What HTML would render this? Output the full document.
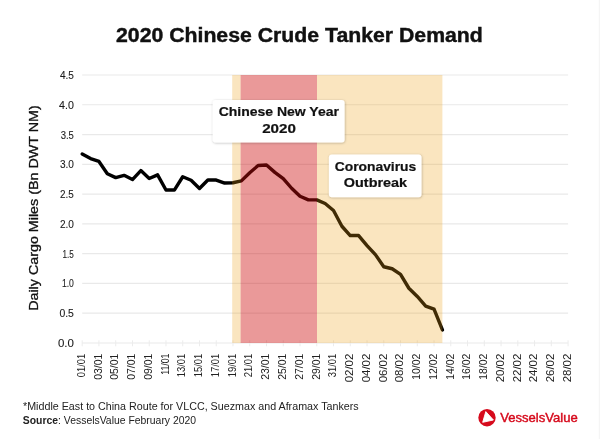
<!DOCTYPE html>
<html><head><meta charset="utf-8"><title>2020 Chinese Crude Tanker Demand</title>
<style>html,body{margin:0;padding:0;background:#fff;width:600px;height:439px;overflow:hidden}svg{display:block;will-change:transform}text{font-family:"Liberation Sans",sans-serif}</style></head><body>
<svg width="600" height="439" viewBox="0 0 600 439">
<defs><filter id="sh" x="-20%" y="-30%" width="140%" height="160%"><feDropShadow dx="0.4" dy="0.6" stdDeviation="0.9" flood-color="#000" flood-opacity="0.28"/></filter></defs>
<rect x="0" y="0" width="600" height="439" fill="#fff"/>
<rect x="598.8" y="0" width="1.2" height="439" fill="#f5f5f5"/>
<text x="116" y="41.5" font-size="19.5" font-weight="bold" fill="#111" stroke="#111" stroke-width="0.4" textLength="366.8" lengthAdjust="spacingAndGlyphs">2020 Chinese Crude Tanker Demand</text>
<line x1="82.2" y1="343.00" x2="568.1" y2="343.00" stroke="#e9e9e9" stroke-width="1.2"/>
<line x1="82.2" y1="313.22" x2="568.1" y2="313.22" stroke="#e9e9e9" stroke-width="1.2"/>
<line x1="82.2" y1="283.44" x2="568.1" y2="283.44" stroke="#e9e9e9" stroke-width="1.2"/>
<line x1="82.2" y1="253.66" x2="568.1" y2="253.66" stroke="#e9e9e9" stroke-width="1.2"/>
<line x1="82.2" y1="223.88" x2="568.1" y2="223.88" stroke="#e9e9e9" stroke-width="1.2"/>
<line x1="82.2" y1="194.10" x2="568.1" y2="194.10" stroke="#e9e9e9" stroke-width="1.2"/>
<line x1="82.2" y1="164.32" x2="568.1" y2="164.32" stroke="#e9e9e9" stroke-width="1.2"/>
<line x1="82.2" y1="134.54" x2="568.1" y2="134.54" stroke="#e9e9e9" stroke-width="1.2"/>
<line x1="82.2" y1="104.76" x2="568.1" y2="104.76" stroke="#e9e9e9" stroke-width="1.2"/>
<line x1="82.2" y1="74.98" x2="568.1" y2="74.98" stroke="#e9e9e9" stroke-width="1.2"/>
<line x1="82.20" y1="340.3" x2="82.20" y2="346.3" stroke="#ececec" stroke-width="1"/>
<line x1="98.95" y1="340.3" x2="98.95" y2="346.3" stroke="#ececec" stroke-width="1"/>
<line x1="115.71" y1="340.3" x2="115.71" y2="346.3" stroke="#ececec" stroke-width="1"/>
<line x1="132.46" y1="340.3" x2="132.46" y2="346.3" stroke="#ececec" stroke-width="1"/>
<line x1="149.22" y1="340.3" x2="149.22" y2="346.3" stroke="#ececec" stroke-width="1"/>
<line x1="165.97" y1="340.3" x2="165.97" y2="346.3" stroke="#ececec" stroke-width="1"/>
<line x1="182.72" y1="340.3" x2="182.72" y2="346.3" stroke="#ececec" stroke-width="1"/>
<line x1="199.48" y1="340.3" x2="199.48" y2="346.3" stroke="#ececec" stroke-width="1"/>
<line x1="216.23" y1="340.3" x2="216.23" y2="346.3" stroke="#ececec" stroke-width="1"/>
<line x1="232.99" y1="340.3" x2="232.99" y2="346.3" stroke="#ececec" stroke-width="1"/>
<line x1="249.74" y1="340.3" x2="249.74" y2="346.3" stroke="#ececec" stroke-width="1"/>
<line x1="266.49" y1="340.3" x2="266.49" y2="346.3" stroke="#ececec" stroke-width="1"/>
<line x1="283.25" y1="340.3" x2="283.25" y2="346.3" stroke="#ececec" stroke-width="1"/>
<line x1="300.00" y1="340.3" x2="300.00" y2="346.3" stroke="#ececec" stroke-width="1"/>
<line x1="316.76" y1="340.3" x2="316.76" y2="346.3" stroke="#ececec" stroke-width="1"/>
<line x1="333.51" y1="340.3" x2="333.51" y2="346.3" stroke="#ececec" stroke-width="1"/>
<line x1="350.26" y1="340.3" x2="350.26" y2="346.3" stroke="#ececec" stroke-width="1"/>
<line x1="367.02" y1="340.3" x2="367.02" y2="346.3" stroke="#ececec" stroke-width="1"/>
<line x1="383.77" y1="340.3" x2="383.77" y2="346.3" stroke="#ececec" stroke-width="1"/>
<line x1="400.53" y1="340.3" x2="400.53" y2="346.3" stroke="#ececec" stroke-width="1"/>
<line x1="417.28" y1="340.3" x2="417.28" y2="346.3" stroke="#ececec" stroke-width="1"/>
<line x1="434.03" y1="340.3" x2="434.03" y2="346.3" stroke="#ececec" stroke-width="1"/>
<line x1="450.79" y1="340.3" x2="450.79" y2="346.3" stroke="#ececec" stroke-width="1"/>
<line x1="467.54" y1="340.3" x2="467.54" y2="346.3" stroke="#ececec" stroke-width="1"/>
<line x1="484.30" y1="340.3" x2="484.30" y2="346.3" stroke="#ececec" stroke-width="1"/>
<line x1="501.05" y1="340.3" x2="501.05" y2="346.3" stroke="#ececec" stroke-width="1"/>
<line x1="517.80" y1="340.3" x2="517.80" y2="346.3" stroke="#ececec" stroke-width="1"/>
<line x1="534.56" y1="340.3" x2="534.56" y2="346.3" stroke="#ececec" stroke-width="1"/>
<line x1="551.31" y1="340.3" x2="551.31" y2="346.3" stroke="#ececec" stroke-width="1"/>
<line x1="568.07" y1="340.3" x2="568.07" y2="346.3" stroke="#ececec" stroke-width="1"/>
<text x="73.9" y="347.00" font-size="11" fill="#1a1a1a" stroke="#1a1a1a" stroke-width="0.1" text-anchor="end" textLength="16" lengthAdjust="spacingAndGlyphs">0.0</text>
<text x="73.9" y="317.22" font-size="11" fill="#1a1a1a" stroke="#1a1a1a" stroke-width="0.1" text-anchor="end" textLength="14.5" lengthAdjust="spacingAndGlyphs">0.5</text>
<text x="73.9" y="287.44" font-size="11" fill="#1a1a1a" stroke="#1a1a1a" stroke-width="0.1" text-anchor="end" textLength="12" lengthAdjust="spacingAndGlyphs">1.0</text>
<text x="73.9" y="257.66" font-size="11" fill="#1a1a1a" stroke="#1a1a1a" stroke-width="0.1" text-anchor="end" textLength="11.3" lengthAdjust="spacingAndGlyphs">1.5</text>
<text x="73.9" y="227.88" font-size="11" fill="#1a1a1a" stroke="#1a1a1a" stroke-width="0.1" text-anchor="end" textLength="14" lengthAdjust="spacingAndGlyphs">2.0</text>
<text x="73.9" y="198.10" font-size="11" fill="#1a1a1a" stroke="#1a1a1a" stroke-width="0.1" text-anchor="end" textLength="13.8" lengthAdjust="spacingAndGlyphs">2.5</text>
<text x="73.9" y="168.32" font-size="11" fill="#1a1a1a" stroke="#1a1a1a" stroke-width="0.1" text-anchor="end" textLength="14" lengthAdjust="spacingAndGlyphs">3.0</text>
<text x="73.9" y="138.54" font-size="11" fill="#1a1a1a" stroke="#1a1a1a" stroke-width="0.1" text-anchor="end" textLength="13.2" lengthAdjust="spacingAndGlyphs">3.5</text>
<text x="73.9" y="108.76" font-size="11" fill="#1a1a1a" stroke="#1a1a1a" stroke-width="0.1" text-anchor="end" textLength="14.8" lengthAdjust="spacingAndGlyphs">4.0</text>
<text x="73.9" y="78.98" font-size="11" fill="#1a1a1a" stroke="#1a1a1a" stroke-width="0.1" text-anchor="end" textLength="14" lengthAdjust="spacingAndGlyphs">4.5</text>
<text transform="translate(84.95,353.7) rotate(-90)" font-size="10.2" fill="#222" text-anchor="end" textLength="23.60" lengthAdjust="spacingAndGlyphs">01/01</text>
<text transform="translate(101.70,353.7) rotate(-90)" font-size="10.2" fill="#222" text-anchor="end" textLength="26.10" lengthAdjust="spacingAndGlyphs">03/01</text>
<text transform="translate(118.46,353.7) rotate(-90)" font-size="10.2" fill="#222" text-anchor="end" textLength="26.10" lengthAdjust="spacingAndGlyphs">05/01</text>
<text transform="translate(135.21,353.7) rotate(-90)" font-size="10.2" fill="#222" text-anchor="end" textLength="26.10" lengthAdjust="spacingAndGlyphs">07/01</text>
<text transform="translate(151.97,353.7) rotate(-90)" font-size="10.2" fill="#222" text-anchor="end" textLength="26.10" lengthAdjust="spacingAndGlyphs">09/01</text>
<text transform="translate(168.72,353.7) rotate(-90)" font-size="10.2" fill="#222" text-anchor="end" textLength="21.10" lengthAdjust="spacingAndGlyphs">11/01</text>
<text transform="translate(185.47,353.7) rotate(-90)" font-size="10.2" fill="#222" text-anchor="end" textLength="23.60" lengthAdjust="spacingAndGlyphs">13/01</text>
<text transform="translate(202.23,353.7) rotate(-90)" font-size="10.2" fill="#222" text-anchor="end" textLength="23.60" lengthAdjust="spacingAndGlyphs">15/01</text>
<text transform="translate(218.98,353.7) rotate(-90)" font-size="10.2" fill="#222" text-anchor="end" textLength="23.60" lengthAdjust="spacingAndGlyphs">17/01</text>
<text transform="translate(235.74,353.7) rotate(-90)" font-size="10.2" fill="#222" text-anchor="end" textLength="23.60" lengthAdjust="spacingAndGlyphs">19/01</text>
<text transform="translate(252.49,353.7) rotate(-90)" font-size="10.2" fill="#222" text-anchor="end" textLength="23.60" lengthAdjust="spacingAndGlyphs">21/01</text>
<text transform="translate(269.24,353.7) rotate(-90)" font-size="10.2" fill="#222" text-anchor="end" textLength="26.10" lengthAdjust="spacingAndGlyphs">23/01</text>
<text transform="translate(286.00,353.7) rotate(-90)" font-size="10.2" fill="#222" text-anchor="end" textLength="26.10" lengthAdjust="spacingAndGlyphs">25/01</text>
<text transform="translate(302.75,353.7) rotate(-90)" font-size="10.2" fill="#222" text-anchor="end" textLength="26.10" lengthAdjust="spacingAndGlyphs">27/01</text>
<text transform="translate(319.51,353.7) rotate(-90)" font-size="10.2" fill="#222" text-anchor="end" textLength="26.10" lengthAdjust="spacingAndGlyphs">29/01</text>
<text transform="translate(336.26,353.7) rotate(-90)" font-size="10.2" fill="#222" text-anchor="end" textLength="23.60" lengthAdjust="spacingAndGlyphs">31/01</text>
<text transform="translate(353.01,353.7) rotate(-90)" font-size="10.2" fill="#222" text-anchor="end" textLength="28.60" lengthAdjust="spacingAndGlyphs">02/02</text>
<text transform="translate(369.77,353.7) rotate(-90)" font-size="10.2" fill="#222" text-anchor="end" textLength="28.60" lengthAdjust="spacingAndGlyphs">04/02</text>
<text transform="translate(386.52,353.7) rotate(-90)" font-size="10.2" fill="#222" text-anchor="end" textLength="28.60" lengthAdjust="spacingAndGlyphs">06/02</text>
<text transform="translate(403.28,353.7) rotate(-90)" font-size="10.2" fill="#222" text-anchor="end" textLength="28.60" lengthAdjust="spacingAndGlyphs">08/02</text>
<text transform="translate(420.03,353.7) rotate(-90)" font-size="10.2" fill="#222" text-anchor="end" textLength="26.10" lengthAdjust="spacingAndGlyphs">10/02</text>
<text transform="translate(436.78,353.7) rotate(-90)" font-size="10.2" fill="#222" text-anchor="end" textLength="26.10" lengthAdjust="spacingAndGlyphs">12/02</text>
<text transform="translate(453.54,353.7) rotate(-90)" font-size="10.2" fill="#222" text-anchor="end" textLength="26.10" lengthAdjust="spacingAndGlyphs">14/02</text>
<text transform="translate(470.29,353.7) rotate(-90)" font-size="10.2" fill="#222" text-anchor="end" textLength="26.10" lengthAdjust="spacingAndGlyphs">16/02</text>
<text transform="translate(487.05,353.7) rotate(-90)" font-size="10.2" fill="#222" text-anchor="end" textLength="26.10" lengthAdjust="spacingAndGlyphs">18/02</text>
<text transform="translate(503.80,353.7) rotate(-90)" font-size="10.2" fill="#222" text-anchor="end" textLength="28.60" lengthAdjust="spacingAndGlyphs">20/02</text>
<text transform="translate(520.55,353.7) rotate(-90)" font-size="10.2" fill="#222" text-anchor="end" textLength="28.60" lengthAdjust="spacingAndGlyphs">22/02</text>
<text transform="translate(537.31,353.7) rotate(-90)" font-size="10.2" fill="#222" text-anchor="end" textLength="28.60" lengthAdjust="spacingAndGlyphs">24/02</text>
<text transform="translate(554.06,353.7) rotate(-90)" font-size="10.2" fill="#222" text-anchor="end" textLength="28.60" lengthAdjust="spacingAndGlyphs">26/02</text>
<text transform="translate(570.82,353.7) rotate(-90)" font-size="10.2" fill="#222" text-anchor="end" textLength="28.60" lengthAdjust="spacingAndGlyphs">28/02</text>
<text transform="translate(38.3,208.1) rotate(-90)" font-size="13" fill="#111" stroke="#111" stroke-width="0.3" text-anchor="middle" textLength="205.5" lengthAdjust="spacingAndGlyphs">Daily Cargo Miles (Bn DWT NM)</text>
<polyline points="82.20,153.95 90.58,158.55 98.95,161.45 107.33,173.75 115.71,177.65 124.09,175.35 132.46,179.55 140.84,170.55 149.22,178.45 157.59,174.85 165.97,190.05 174.35,190.05 182.72,176.75 191.10,180.25 199.48,188.55 207.86,180.05 216.23,180.05 224.61,183.05 232.99,182.75 241.36,180.85 249.74,172.75 258.12,165.55 266.49,165.05 274.87,172.35 283.25,178.55 291.62,188.25 300.00,196.25 308.38,199.85 316.76,199.85 325.13,203.55 333.51,210.45 341.89,226.25 350.26,235.55 358.64,235.55 367.02,245.55 375.40,254.65 383.77,266.75 392.15,268.75 400.53,274.35 408.90,288.25 417.28,296.45 425.66,306.05 434.03,309.15 442.41,329.95" fill="none" stroke="#000" stroke-width="3.4" stroke-linejoin="round" stroke-linecap="round"/>
<rect x="232.2" y="75" width="8.4" height="268" fill="rgb(235,160,20)" fill-opacity="0.27"/>
<rect x="317" y="75" width="125.4" height="268" fill="rgb(235,160,20)" fill-opacity="0.27"/>
<rect x="240.6" y="75" width="76.4" height="268" fill="rgb(206,12,12)" fill-opacity="0.42"/>
<rect x="212.7" y="99.9" width="131.9" height="42.6" rx="3" fill="#fff" filter="url(#sh)"/>
<text x="278.8" y="116.2" font-size="12.5" font-weight="bold" fill="#111" stroke="#111" stroke-width="0.2" text-anchor="middle" textLength="120.3" lengthAdjust="spacingAndGlyphs">Chinese New Year</text>
<text x="279" y="132.9" font-size="13.2" font-weight="bold" fill="#111" stroke="#111" stroke-width="0.2" text-anchor="middle" textLength="33.7" lengthAdjust="spacingAndGlyphs">2020</text>
<rect x="328.9" y="154.4" width="92.6" height="42.9" rx="3" fill="#fff" filter="url(#sh)"/>
<text x="375.5" y="171.0" font-size="12.5" font-weight="bold" fill="#111" stroke="#111" stroke-width="0.2" text-anchor="middle" textLength="81.6" lengthAdjust="spacingAndGlyphs">Coronavirus</text>
<text x="375.5" y="186.9" font-size="12.5" font-weight="bold" fill="#111" stroke="#111" stroke-width="0.2" text-anchor="middle" textLength="63.3" lengthAdjust="spacingAndGlyphs">Outbreak</text>
<text x="23" y="409.8" font-size="10" fill="#222" textLength="335.7" lengthAdjust="spacingAndGlyphs">*Middle East to China Route for VLCC, Suezmax and Aframax Tankers</text>
<text x="22.8" y="423.5" font-size="10" fill="#222" textLength="173.3" lengthAdjust="spacingAndGlyphs"><tspan font-weight="bold">Source</tspan>: VesselsValue February 2020</text>
<circle cx="487" cy="417.7" r="8.7" fill="#d60a1c"/>
<path d="M485.8,411.6 L493.4,420 L482.7,422.3 Z" fill="#fff" stroke="#fff" stroke-width="0.9" stroke-linejoin="round"/>
<text x="500.2" y="422.3" font-size="13.5" fill="#d60a1c" stroke="#d60a1c" stroke-width="0.45" textLength="77.5" lengthAdjust="spacingAndGlyphs">VesselsValue</text>
</svg></body></html>
